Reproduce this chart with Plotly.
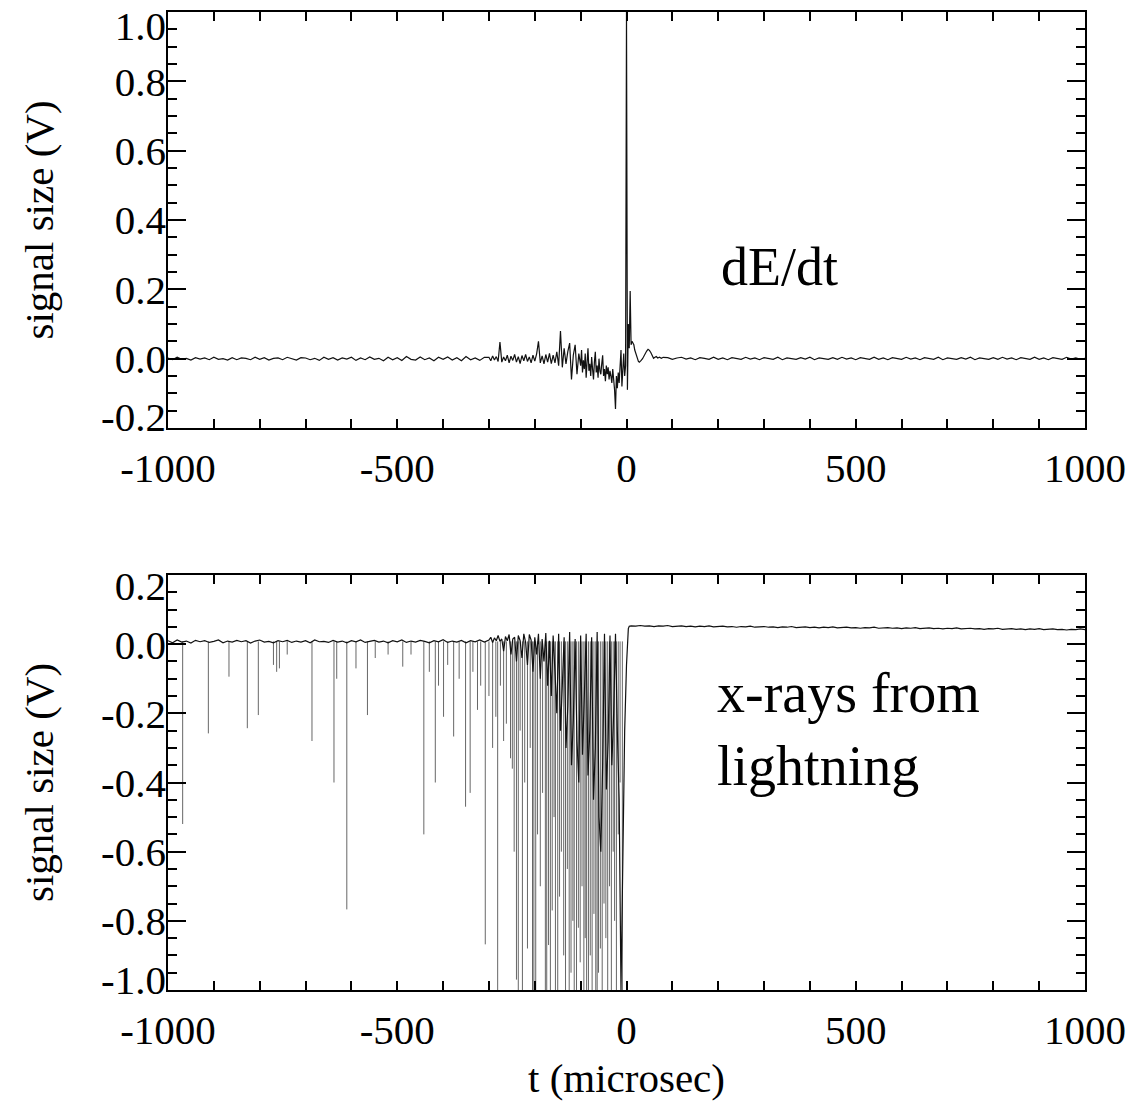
import plotly.graph_objects as go

# ---------------- top panel: dE/dt ----------------
dedt_far_t = list(range(-1000, -300, 10))
dedt_far_v = [0.002, -0.003, 0.004, -0.002, 0.001, -0.004, 0.003, -0.001, 0.002, -0.003,
              0.004, -0.002, 0.000, -0.004, 0.003, -0.003, 0.002, 0.001, -0.003, 0.004,
              -0.002, 0.003, -0.004, 0.001, 0.002, -0.003, 0.004, -0.001, -0.004, 0.003,
              0.002, -0.003, 0.001, -0.005, 0.004, -0.002, 0.003, -0.004, 0.002, -0.001,
              0.004, -0.005, 0.002, -0.003, 0.005, -0.002, 0.001, -0.006, 0.004, -0.003,
              0.003, -0.005, 0.006, -0.002, -0.004, 0.005, -0.003, 0.002, -0.006, 0.004,
              -0.002, 0.005, -0.004, 0.003, -0.006, 0.006, -0.003, 0.002, -0.005, 0.004]

dedt_mid_t = list(range(-300, -100, 4))
dedt_mid_v = [0.004, -0.006, 0.008, -0.004, 0.006, -0.008, 0.048, -0.010, 0.005, -0.006,
              0.010, -0.012, 0.007, -0.005, 0.012, -0.010, 0.006, -0.014, 0.009, -0.006,
              0.012, -0.008, 0.005, -0.012, 0.010, -0.007, 0.014, 0.050, -0.012, 0.008,
              -0.015, 0.012, -0.010, 0.015, -0.014, 0.010, -0.012, 0.020, -0.020, 0.080,
              -0.025, 0.030, -0.015, 0.020, 0.045, -0.060, 0.010, 0.040, -0.045, 0.015]

dedt_near_t = list(range(-100, 0, 2))
dedt_near_v = [-0.020, 0.025, -0.040, -0.005, -0.030, 0.015, -0.055, -0.010, 0.030, -0.035,
               -0.015, -0.050, 0.005, -0.030, -0.060, -0.010, 0.020, -0.040, -0.020, -0.055,
               0.000, -0.035, -0.045, -0.015, 0.010, -0.050, -0.030, -0.065, -0.020, -0.045,
               -0.025, -0.060, -0.035, -0.050, -0.070, -0.030, -0.060, -0.090, -0.145, -0.050,
               -0.085, -0.040, -0.070, -0.035, 0.025, -0.080, -0.030, 0.015, -0.050, -0.020]

dedt_peak_t = [0, 2, 4, 6, 8, 10, 12, 14, 16, 18, 20, 22, 24, 26, 28, 30, 32, 35, 38, 41,
               44, 47, 50, 53, 56, 59, 62, 65, 68, 72, 76, 80]
dedt_peak_v = [1.000, -0.090, 0.100, 0.030, 0.195, 0.040, 0.050, 0.045, 0.040, 0.025,
               0.015, 0.008, -0.002, -0.008, -0.010, -0.008, -0.005, 0.000, 0.008, 0.015,
               0.022, 0.027, 0.024, 0.018, 0.008, 0.001, 0.004, 0.006, 0.002, 0.004,
               0.001, 0.004]

dedt_tail_t = list(range(90, 1001, 10))
dedt_tail_v = [0.003, -0.002, 0.002, 0.004, -0.001, 0.002, -0.003, 0.003, 0.001, -0.002,
               0.004, -0.002, 0.002, -0.003, 0.003, 0.000, -0.002, 0.004, -0.001, 0.002,
               -0.003, 0.003, 0.001, -0.002, 0.004, -0.003, 0.002, 0.001, -0.002, 0.003,
               -0.001, 0.004, -0.003, 0.002, 0.000, -0.002, 0.003, -0.002, 0.004, -0.001,
               0.002, -0.003, 0.003, 0.001, -0.002, 0.004, -0.002, 0.002, -0.003, 0.003,
               0.000, -0.002, 0.004, -0.001, 0.002, -0.003, 0.003, 0.001, -0.002, 0.004,
               -0.003, 0.002, 0.001, -0.002, 0.003, -0.001, 0.004, -0.003, 0.002, 0.000,
               -0.002, 0.003, -0.002, 0.004, -0.001, 0.002, -0.003, 0.003, 0.001, -0.002,
               0.004, -0.002, 0.002, -0.003, 0.003, 0.000, -0.002, 0.004, -0.001, 0.002,
               -0.002, 0.001]

# ---------------- bottom panel: x-rays ----------------
xr_far_t = list(range(-1000, -300, 10))
xr_far_v = [0.010, 0.004, 0.012, 0.006, 0.009, 0.003, 0.011, 0.007, 0.010, 0.005,
            0.008, 0.012, 0.004, 0.009, 0.006, 0.011, 0.007, 0.010, 0.003, 0.009,
            0.012, 0.006, 0.008, 0.004, 0.010, 0.007, 0.011, 0.005, 0.009, 0.006,
            0.010, 0.004, 0.012, 0.007, 0.008, 0.005, 0.011, 0.006, 0.009, 0.004,
            0.010, 0.007, 0.012, 0.005, 0.008, 0.011, 0.006, 0.009, 0.004, 0.010,
            0.007, 0.012, 0.005, 0.009, 0.006, 0.011, 0.008, 0.004, 0.010, 0.007,
            0.013, 0.005, 0.009, 0.006, 0.011, 0.004, 0.010, 0.007, 0.012, 0.006]

xr_mid_t = list(range(-300, -3, 4))
xr_mid_v = [0.012, 0.020, 0.005, 0.018, 0.010, 0.025, 0.008, 0.015, -0.020, 0.022,
            0.010, 0.028, -0.030, 0.015, 0.020, -0.050, 0.025, 0.010, -0.040, 0.030,
            0.005, -0.060, 0.028, 0.012, -0.080, 0.020, -0.030, 0.030, -0.100, 0.015,
            -0.050, 0.032, -0.120, 0.010, -0.150, 0.025, -0.080, -0.200, 0.030, -0.250,
            -0.120, 0.020, -0.300, -0.180, 0.035, -0.350, -0.220, 0.015, -0.280, -0.400,
            0.025, -0.320, -0.150, 0.030, -0.380, -0.250, 0.020, -0.450, -0.300, 0.035,
            -0.500, -0.600, -0.350, 0.030, -0.420, -0.280, 0.025, -0.350, -0.200, 0.030,
            -0.250, -0.450, -1.000, -0.600, -0.250]

xr_rise_t = [0, 2, 4, 6, 8]
xr_rise_v = [-0.060, 0.025, 0.045, 0.052, 0.053]

xr_plateau_t = list(range(10, 1001, 10))
xr_plateau_v = [0.053, 0.052, 0.054, 0.052, 0.053, 0.051, 0.053, 0.052, 0.054, 0.051,
                0.052, 0.053, 0.051, 0.052, 0.050, 0.052, 0.051, 0.053, 0.050, 0.051,
                0.052, 0.050, 0.051, 0.049, 0.051, 0.050, 0.052, 0.049, 0.050, 0.051,
                0.049, 0.050, 0.048, 0.050, 0.049, 0.051, 0.048, 0.049, 0.050, 0.048,
                0.049, 0.047, 0.049, 0.048, 0.050, 0.047, 0.048, 0.049, 0.047, 0.048,
                0.046, 0.048, 0.047, 0.049, 0.046, 0.047, 0.048, 0.046, 0.047, 0.045,
                0.047, 0.046, 0.048, 0.045, 0.046, 0.047, 0.045, 0.046, 0.044, 0.046,
                0.045, 0.047, 0.044, 0.045, 0.046, 0.044, 0.045, 0.043, 0.045, 0.044,
                0.046, 0.043, 0.044, 0.045, 0.043, 0.044, 0.042, 0.044, 0.043, 0.045,
                0.042, 0.043, 0.044, 0.042, 0.043, 0.041, 0.043, 0.042, 0.044, 0.042]

# individual x-ray pulses: time (microsec) and pulse minimum (V)
xr_pulse_t = [-968, -912, -867, -827, -803, -770, -763, -757, -740, -686,
              -638, -632, -610, -590, -565, -548, -520, -488, -470, -442,
              -430, -417, -410, -399, -390, -377, -365, -351, -341, -335,
              -325, -318, -308, -300, -292, -285, -281, -275, -268, -262,
              -253, -249, -245, -240, -236, -232, -227, -222, -216, -210,
              -205, -202, -198, -194, -188, -183, -177, -174, -170, -166,
              -162, -158, -155, -150, -146, -142, -137, -133, -129, -125,
              -121, -117, -114, -109, -105, -101, -97, -93, -90, -87,
              -83, -79, -75, -71, -67, -64, -61, -57, -53, -49,
              -45, -41, -37, -33, -29, -26, -22, -18, -14, -9]
xr_pulse_v = [-0.52, -0.258, -0.094, -0.243, -0.205, -0.06, -0.08, -0.07, -0.03, -0.28,
              -0.40, -0.10, -0.767, -0.07, -0.205, -0.04, -0.03, -0.065, -0.03, -0.55,
              -0.08, -0.40, -0.12, -0.21, -0.06, -0.267, -0.10, -0.47, -0.43, -0.08,
              -0.19, -0.12, -0.868, -0.15, -0.30, -0.21, -1.0, -0.12, -0.28, -0.23,
              -0.33, -0.36, -0.60, -0.97, -1.0, -0.25, -1.0, -0.40, -0.88, -0.30,
              -1.0, -1.0, -1.0, -0.55, -0.70, -0.43, -1.0, -1.0, -0.87, -1.0,
              -0.77, -0.50, -1.0, -1.0, -0.73, -0.60, -0.90, -1.0, -0.65, -1.0,
              -0.95, -0.80, -1.0, -1.0, -0.82, -0.92, -0.70, -1.0, -0.85, -1.0,
              -1.0, -0.90, -1.0, -0.78, -1.0, -1.0, -0.95, -0.88, -1.0, -0.75,
              -0.85, -1.0, -0.70, -1.0, -0.60, -0.80, -1.0, -0.55, -0.40, -1.0]
XR_PULSE_START = 0.008  # baseline level from which pulses fall

x_tickvals = [-1000, -500, 0, 500, 1000]
x_ticktext = ["-1000", "-500", "0", "500", "1000"]
top_y_tickvals = [-0.2, 0.0, 0.2, 0.4, 0.6, 0.8, 1.0]
top_y_ticktext = ["-0.2", "0.0", "0.2", "0.4", "0.6", "0.8", "1.0"]
bot_y_tickvals = [-1.0, -0.8, -0.6, -0.4, -0.2, 0.0, 0.2]
bot_y_ticktext = ["-1.0", "-0.8", "-0.6", "-0.4", "-0.2", "0.0", "0.2"]

for a, b in [(dedt_far_t, dedt_far_v), (dedt_mid_t, dedt_mid_v), (dedt_near_t, dedt_near_v),
             (dedt_peak_t, dedt_peak_v), (dedt_tail_t, dedt_tail_v), (xr_far_t, xr_far_v),
             (xr_mid_t, xr_mid_v), (xr_rise_t, xr_rise_v), (xr_plateau_t, xr_plateau_v),
             (xr_pulse_t, xr_pulse_v)]:
    assert len(a) == len(b), (len(a), len(b))

dedt_t = dedt_far_t + dedt_mid_t + dedt_near_t + dedt_peak_t + dedt_tail_t
dedt_v = dedt_far_v + dedt_mid_v + dedt_near_v + dedt_peak_v + dedt_tail_v
xr_t = xr_far_t + xr_mid_t + xr_rise_t + xr_plateau_t
xr_v = xr_far_v + xr_mid_v + xr_rise_v + xr_plateau_v

pulse_x, pulse_y = [], []
for t, v in zip(xr_pulse_t, xr_pulse_v):
    pulse_x += [t, t, None]
    pulse_y += [XR_PULSE_START, v, None]

# page has an 8px body margin: figure is placed at (8, 8)
OFF = 8
W, H = 1134 - OFF, 1101 - OFF
FONT = "Liberation Serif"


def px_x(p):
    return (p - OFF) / W


def px_y(p):
    return 1 - (p - OFF) / H


fig = go.Figure()
fig.add_trace(go.Scatter(x=dedt_t, y=dedt_v, mode="lines",
                         line=dict(color="#111111", width=1.2), xaxis="x", yaxis="y",
                         showlegend=False, hoverinfo="skip"))
fig.add_trace(go.Scatter(x=pulse_x, y=pulse_y, mode="lines",
                         line=dict(color="rgba(0,0,0,0.6)", width=1), xaxis="x2", yaxis="y2",
                         showlegend=False, hoverinfo="skip", connectgaps=False))
fig.add_trace(go.Scatter(x=xr_t, y=xr_v, mode="lines",
                         line=dict(color="#111111", width=1.2), xaxis="x2", yaxis="y2",
                         showlegend=False, hoverinfo="skip"))
# empty traces that register the label-only overlay axes
fig.add_trace(go.Scatter(x=[], y=[], xaxis="x", yaxis="y3", showlegend=False))
fig.add_trace(go.Scatter(x=[], y=[], xaxis="x2", yaxis="y4", showlegend=False))

xdom = [px_x(168), px_x(1085)]
top_dom = [px_y(428), px_y(12)]
bot_dom = [px_y(990), px_y(575)]
PANEL_PX = 428 - 12  # panel height in pixels

tickfont = dict(family=FONT, size=41, color="black")
titlefont = dict(family=FONT, size=41, color="black")


def xaxis(anchor, title=None):
    d = dict(domain=xdom, anchor=anchor, range=[-1000, 1000],
             tickmode="array", tickvals=x_tickvals, ticktext=x_ticktext,
             ticks="inside", ticklen=9, tickwidth=2, tickcolor="black",
             minor=dict(ticks="inside", ticklen=4, tickwidth=2, tickcolor="black",
                        dtick=100, tick0=0),
             showline=True, linewidth=2, linecolor="black", mirror="allticks",
             showgrid=False, zeroline=False, tickfont=tickfont,
             ticklabelstandoff=3, automargin=False)
    if title:
        d["title"] = dict(text=title, font=titlefont, standoff=13)
    return d


def yaxis(anchor, dom, rng):
    # frame + tick marks (labels are drawn by the overlay axis)
    return dict(domain=dom, anchor=anchor, range=rng,
                tickmode="linear", tick0=0, dtick=0.2,
                ticks="inside", ticklen=18, tickwidth=2, tickcolor="black",
                minor=dict(ticks="inside", ticklen=9, tickwidth=2, tickcolor="black",
                           dtick=0.05, tick0=0),
                showline=True, linewidth=2, linecolor="black", mirror="allticks",
                showgrid=False, zeroline=False, showticklabels=False, automargin=False)


def ylabels(base, anchor, rng, vals, texts, shift_top_px, shift_bottom_px):
    # IDL-style placement: end labels are nudged inward of the frame
    unit = (rng[1] - rng[0]) / PANEL_PX
    pos = list(vals)
    pos[-1] = vals[-1] - shift_top_px * unit
    pos[0] = vals[0] + shift_bottom_px * unit
    return dict(overlaying=base, anchor=anchor, side="left", range=rng,
                tickmode="array", tickvals=pos, ticktext=texts,
                ticks="", showline=False, showgrid=False, zeroline=False,
                tickfont=tickfont, ticklabelstandoff=1, automargin=False,
                ticklabeloverflow="allow",
                title=dict(text="signal size (V)", font=titlefont, standoff=34))


top_rng = [-0.2, 1.0]
bot_rng = [-1.0, 0.2]

fig.update_layout(
    width=W, height=H, autosize=False,
    margin=dict(l=0, r=0, t=0, b=0),
    paper_bgcolor="white", plot_bgcolor="white",
    font=dict(family=FONT, color="black"),
    xaxis=xaxis("y"),
    yaxis=yaxis("x", top_dom, top_rng),
    yaxis3=ylabels("y", "x", top_rng, top_y_tickvals, top_y_ticktext, 14, 11),
    xaxis2=xaxis("y2", "t (microsec)"),
    yaxis2=yaxis("x2", bot_dom, bot_rng),
    yaxis4=ylabels("y2", "x2", bot_rng, bot_y_tickvals, bot_y_ticktext, 11, 10),
    annotations=[
        dict(text="dE/dt", xref="paper", yref="paper", x=711 / W, y=1 - 259 / H,
             xanchor="left", yanchor="middle", showarrow=False,
             font=dict(family=FONT, size=54, color="black")),
        dict(text="x-rays from<br>lightning", xref="paper", yref="paper",
             x=707 / W, y=1 - 721 / H, xanchor="left", yanchor="middle", align="left",
             showarrow=False, font=dict(family=FONT, size=56, color="black")),
    ],
)

fig.write_html("out.html")
